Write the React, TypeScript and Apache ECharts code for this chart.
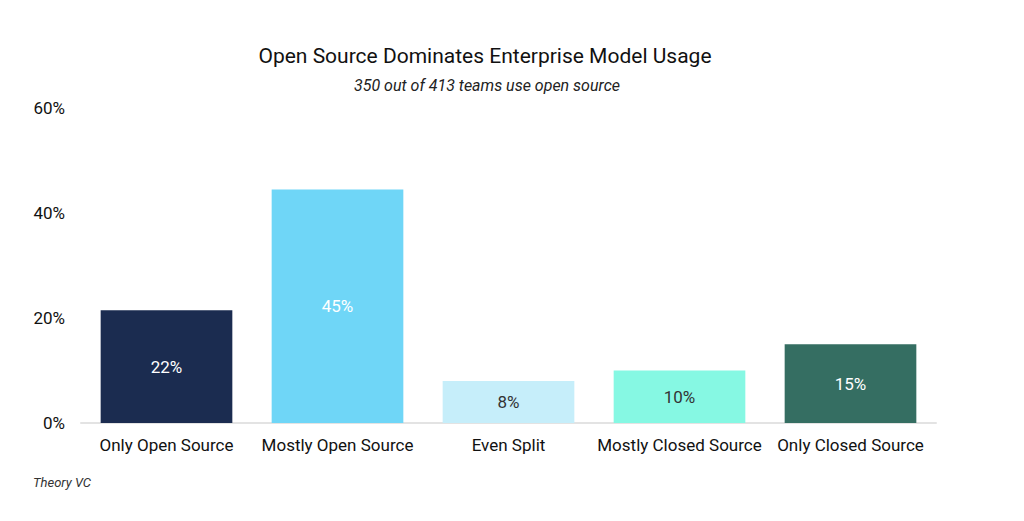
import React, { useEffect, useRef } from "react";
import * as echarts from "echarts";

const categories = [
  "Only Open Source",
  "Mostly Open Source",
  "Even Split",
  "Mostly Closed Source",
  "Only Closed Source",
];
const values = [21.5, 44.5, 8, 10, 15];
const valueLabels = ["22%", "45%", "8%", "10%", "15%"];
const barColors = ["#1b2c50", "#6fd6f7", "#c6eefa", "#86f8e3", "#356e62"];
const labelColors = ["#ffffff", "#ffffff", "#333333", "#333333", "#ffffff"];
const yTicks = [0, 20, 40, 60];

const FONT = "Roboto, 'Noto Sans', sans-serif";

export default function App() {
  const ref = useRef<HTMLDivElement>(null);
  useEffect(() => {
    if (!ref.current) return;
    const chart = echarts.init(ref.current, undefined, { renderer: "svg" });
    chart.setOption({
      animation: false,
      backgroundColor: "#ffffff",
      textStyle: { fontFamily: FONT },
      title: [
        {
          text: "Open Source Dominates Enterprise Model Usage",
          left: 485,
          top: 45,
          padding: 0,
          textAlign: "center",
          textStyle: { fontFamily: FONT, fontSize: 21, fontWeight: "normal", color: "#111111" },
        },
        {
          text: "350 out of 413 teams use open source",
          left: 487,
          top: 77,
          padding: 0,
          textAlign: "center",
          textStyle: { fontFamily: FONT, fontSize: 16, fontStyle: "italic", fontWeight: "normal", color: "#222222" },
        },
        {
          text: "Theory VC",
          left: 33,
          top: 476,
          padding: 0,
          textStyle: { fontFamily: FONT, fontSize: 13, fontStyle: "italic", fontWeight: "normal", color: "#333333" },
        },
      ],
      grid: { left: 81, right: 88, top: 108, bottom: 98, containLabel: false },
      xAxis: {
        type: "category",
        data: categories,
        axisLine: { show: true, lineStyle: { color: "#e3e3e3", width: 2 } },
        axisTick: { show: false },
        axisLabel: { color: "#111111", fontSize: 17, margin: 13, fontFamily: FONT, interval: 0 },
      },
      yAxis: {
        type: "value",
        min: 0,
        max: 60,
        interval: 20,
        splitLine: { show: false },
        axisLine: { show: false },
        axisTick: { show: false },
        axisLabel: {
          color: "#111111",
          fontSize: 17,
          margin: 16,
          fontFamily: FONT,
          formatter: (v: number) => (yTicks.includes(v) ? v + "%" : ""),
        },
      },
      series: [
        {
          type: "bar",
          barCategoryGap: "23%",
          data: values.map((v, i) => ({
            value: v,
            itemStyle: { color: barColors[i] },
            label: {
              show: true,
              position: "inside",
              color: labelColors[i],
              fontSize: 17,
              fontFamily: FONT,
              formatter: () => valueLabels[i],
            },
          })),
        },
      ],
    });
    return () => chart.dispose();
  }, []);
  return (
    <div
      ref={ref}
      style={{ position: "absolute", left: 0, top: 0, width: 1024, height: 521 }}
    />
  );
}
